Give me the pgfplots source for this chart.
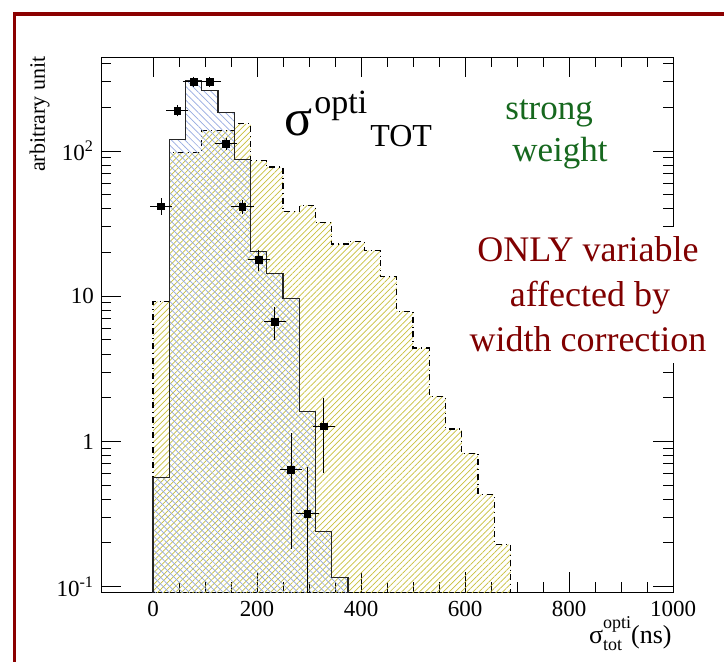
\documentclass[border=0pt]{standalone}
\usepackage{fontspec}
\setmainfont{Liberation Serif}
\usepackage{pgfplots}
\pgfplotsset{compat=1.18}
\usepackage{pgfplotstable}
\usetikzlibrary{patterns.meta}

\definecolor{framered}{RGB}{139,0,0}
\definecolor{txtred}{RGB}{128,0,0}
\definecolor{txtgreen}{RGB}{22,104,30}
\definecolor{bluehatch}{RGB}{150,170,225}
\definecolor{yellowhatch}{RGB}{200,192,60}

\pgfplotstableread{
x y
0 0.05
0 0.565
31.25 120
62.5 307
93.75 262
125 184
156.25 87
187.5 20.4
218.75 14.3
250 9.6
281.25 1.6
312.5 0.241
343.75 0.115
375 0.115
375 0.05
}\bluehist

\pgfplotstableread{
x y
0 0.05
0 9.2
31.25 98
62.5 98
93.75 138
125 138
156.25 154
187.5 86
218.75 77.6
250 38.5
281.25 42.3
312.5 32.3
343.75 22.9
375 23.9
406.25 20.6
437.5 13.6
468.75 7.9
500 4.4
531.25 2.05
562.5 1.22
593.75 0.83
625 0.43
656.25 0.195
687.5 0.195
687.5 0.05
}\yellowhist

\pgfplotstableread{
x y ex ey
15.625 41.6 15.625 3.5
46.875 190 15.625 8
78.125 300 15.625 10
109.375 300 15.625 10
140.625 112 15.625 6
171.875 41.2 15.625 2.5
203.125 17.8 15.625 2.2
234.375 6.67 15.625 1.4
265.625 0.64 15.625 0.45
296.875 0.318 15.625 0.316
328.125 1.27 15.625 0.63
}\datapts

\begin{document}
\begin{tikzpicture}
\useasboundingbox (0,0) rectangle (362pt,330.5pt);
\fill[white] (0,0) rectangle (362pt,330.5pt);
\begin{axis}[
  at={(50.5pt,34.35pt)}, anchor=south west,
  scale only axis, width=286pt, height=267.65pt,
  xmin=-100, xmax=1000,
  ymode=log, ymin=0.0915, ymax=444,
  xtick={0,200,400,600,800,1000},
  xticklabels={0,200,400,600,800,1000},
  minor x tick num=3,
  ytick={0.1,1,10,100},
  yticklabels={10\textsuperscript{-1},1,10,10\textsuperscript{2}},
  minor ytick={0.2,0.3,0.4,0.5,0.6,0.7,0.8,0.9,2,3,4,5,6,7,8,9,20,30,40,50,60,70,80,90,200,300,400},
  tick align=inside,
  major tick length=10pt, minor tick length=5pt,
  axis line style={line width=0.5pt},
  tick style={black, line width=0.5pt},
  ticklabel style={font=\fontsize{11.5}{13}\selectfont},
  xticklabel style={yshift=-1pt},
]
\addplot[const plot, draw=black, dash dot, line width=0.6pt,
  pattern={Lines[angle=45,distance=2.1pt,line width=0.35pt]}, pattern color=yellowhatch]
  table {\yellowhist};
\addplot[const plot, draw=black!85, line width=0.6pt,
  pattern={Lines[angle=-45,distance=2.4pt,line width=0.35pt]}, pattern color=bluehatch]
  table {\bluehist};
\addplot[only marks, mark=square*, mark size=1.7pt, black,
  error bars/.cd, x dir=both, x explicit, y dir=both, y explicit,
  error mark=-,
  error bar style={line width=0.5pt, black},
  error mark options={black, mark size=1.5pt, line width=0.5pt}]
  table[x=x, y=y, x error=ex, y error=ey] {\datapts};
\end{axis}

% frame
\draw[framered, line width=1.8pt] (7.25pt,-2pt) -- (7.25pt,323.5pt) -- (365pt,323.5pt);

% axis titles
\node[rotate=90, anchor=base east, inner sep=0pt, font=\fontsize{11}{13}\selectfont] at (22.5pt,302.5pt) {arbitrary unit};
\node[anchor=base east, inner sep=0pt, font=\fontsize{13}{15}\selectfont] at (336pt,9pt)
  {σ\rlap{\raisebox{-0.3em}{\fontsize{9}{10}\selectfont tot}}\raisebox{0.55em}{\fontsize{9}{10}\selectfont opti}(ns)};

% big label
\node[anchor=base west, inner sep=0pt, font=\fontsize{26}{28}\selectfont] at (142pt,263pt) {σ};
\node[anchor=base west, inner sep=0pt, font=\fontsize{17}{19}\selectfont] at (157pt,273.8pt) {opti};
\node[anchor=base west, inner sep=0pt, font=\fontsize{16}{18}\selectfont] at (185pt,257.2pt) {TOT};

% green text
\node[anchor=base west, inner sep=0pt, text=txtgreen, font=\fontsize{17.5}{19}\selectfont] at (252.5pt,270.85pt) {strong};
\node[anchor=base west, inner sep=0pt, text=txtgreen, font=\fontsize{17.5}{19}\selectfont] at (256pt,249.65pt) {weight};

% red text on a white pave
\fill[white] (232pt,149pt) rectangle (362pt,217pt);
\node[anchor=base, inner sep=0pt, text=txtred, font=\fontsize{18}{20}\selectfont] at (294pt,199.65pt) {ONLY variable};
\node[anchor=base, inner sep=0pt, text=txtred, font=\fontsize{18}{20}\selectfont] at (295pt,177.15pt) {affected by};
\node[anchor=base, inner sep=0pt, text=txtred, font=\fontsize{18}{20}\selectfont] at (294pt,154.65pt) {width correction};
\end{tikzpicture}
\end{document}
